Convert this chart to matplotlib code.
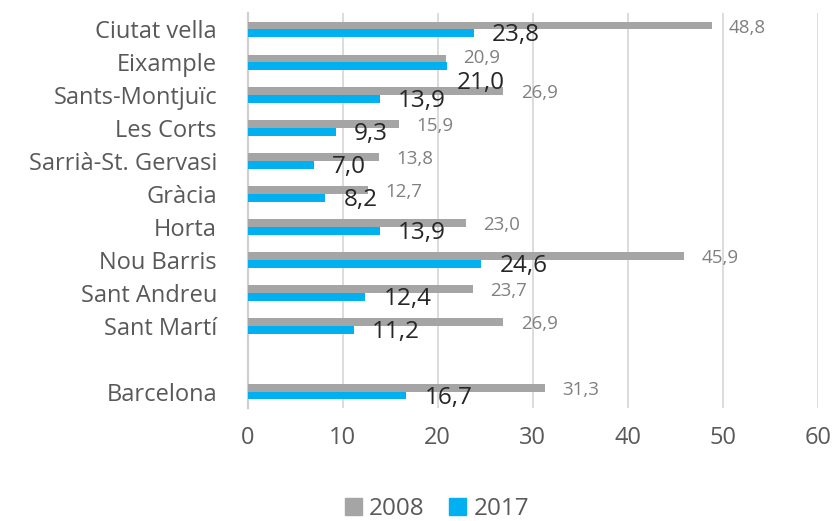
import matplotlib
matplotlib.use("Agg")
import matplotlib.pyplot as plt
from matplotlib.patches import Patch

plt.rcParams['font.family'] = ['Open Sans', 'DejaVu Sans']

categories = ["Ciutat vella", "Eixample", "Sants-Montjuïc", "Les Corts", "Sarrià-St. Gervasi",
              "Gràcia", "Horta", "Nou Barris", "Sant Andreu", "Sant Martí", "Barcelona"]
slot = [0, 1, 2, 3, 4, 5, 6, 7, 8, 9, 11]
v2008 = [48.8, 20.9, 26.9, 15.9, 13.8, 12.7, 23.0, 45.9, 23.7, 26.9, 31.3]
v2017 = [23.8, 21.0, 13.9, 9.3, 7.0, 8.2, 13.9, 24.6, 12.4, 11.2, 16.7]
xticks = [0, 10, 20, 30, 40, 50, 60]

c2008 = "#A5A5A5"
c2017 = "#00B0F0"
tick_col = "#595959"

fig = plt.figure(figsize=(8.35, 5.21), dpi=100)
ax = fig.add_axes([247.5 / 835, 1 - 408 / 521, (818 - 247.5) / 835, (408 - 13) / 521])

h = 0.237
y_g = [s - h / 2 for s in slot]
y_b = [s + h / 2 for s in slot]
ax.barh(y_g, v2008, height=h, color=c2008, zorder=3)
ax.barh(y_b, v2017, height=h, color=c2017, zorder=3)

# label nudges (points) for labels that Excel moved to avoid overlap
nudge_2008 = {1: (0, 1.5)}
nudge_2017 = {1: (-6, -10.5)}

for i, (y, v) in enumerate(zip(y_g, v2008)):
    dx, dy = nudge_2008.get(i, (0, 0))
    ax.annotate(f"{v:.1f}".replace(".", ","), (v, y), xytext=(12.5 + dx, -1.5 + dy),
                textcoords="offset points", ha="left", va="center",
                fontsize=13.5, color="#808080", zorder=4)
for i, (y, v) in enumerate(zip(y_b, v2017)):
    dx, dy = nudge_2017.get(i, (0, 0))
    ax.annotate(f"{v:.1f}".replace(".", ","), (v, y), xytext=(13 + dx, -1.5 + dy),
                textcoords="offset points", ha="left", va="center",
                fontsize=17.5, color="#262626", zorder=4)

ax.set_xlim(0, 60)
ax.set_ylim(11.5, -0.5)
ax.set_xticks(xticks)
ax.set_xticklabels([str(t) for t in xticks])
ax.set_yticks(slot)
ax.set_yticklabels(categories)
ax.tick_params(axis="both", length=0, labelsize=17, colors=tick_col)
ax.tick_params(axis="y", pad=22)
ax.tick_params(axis="x", pad=13)

ax.grid(axis="x", color="#D9D9D9", linewidth=1.3, zorder=0)
for s in ["top", "right", "bottom"]:
    ax.spines[s].set_visible(False)
ax.spines["left"].set_color("#D0D0D0")
ax.spines["left"].set_linewidth(1.6)
ax.spines["left"].set_zorder(2)

handles = [Patch(color=c2008, label="2008"), Patch(color=c2017, label="2017")]
leg = fig.legend(handles=handles, loc="center", bbox_to_anchor=(437 / 835, 1 - 509 / 521),
                 ncol=2, frameon=False, fontsize=17.5, handlelength=0.7, handleheight=0.7,
                 handletextpad=0.3, columnspacing=1.0, borderpad=0)
for t in leg.get_texts():
    t.set_color(tick_col)

fig.savefig("out.png", dpi=100)
